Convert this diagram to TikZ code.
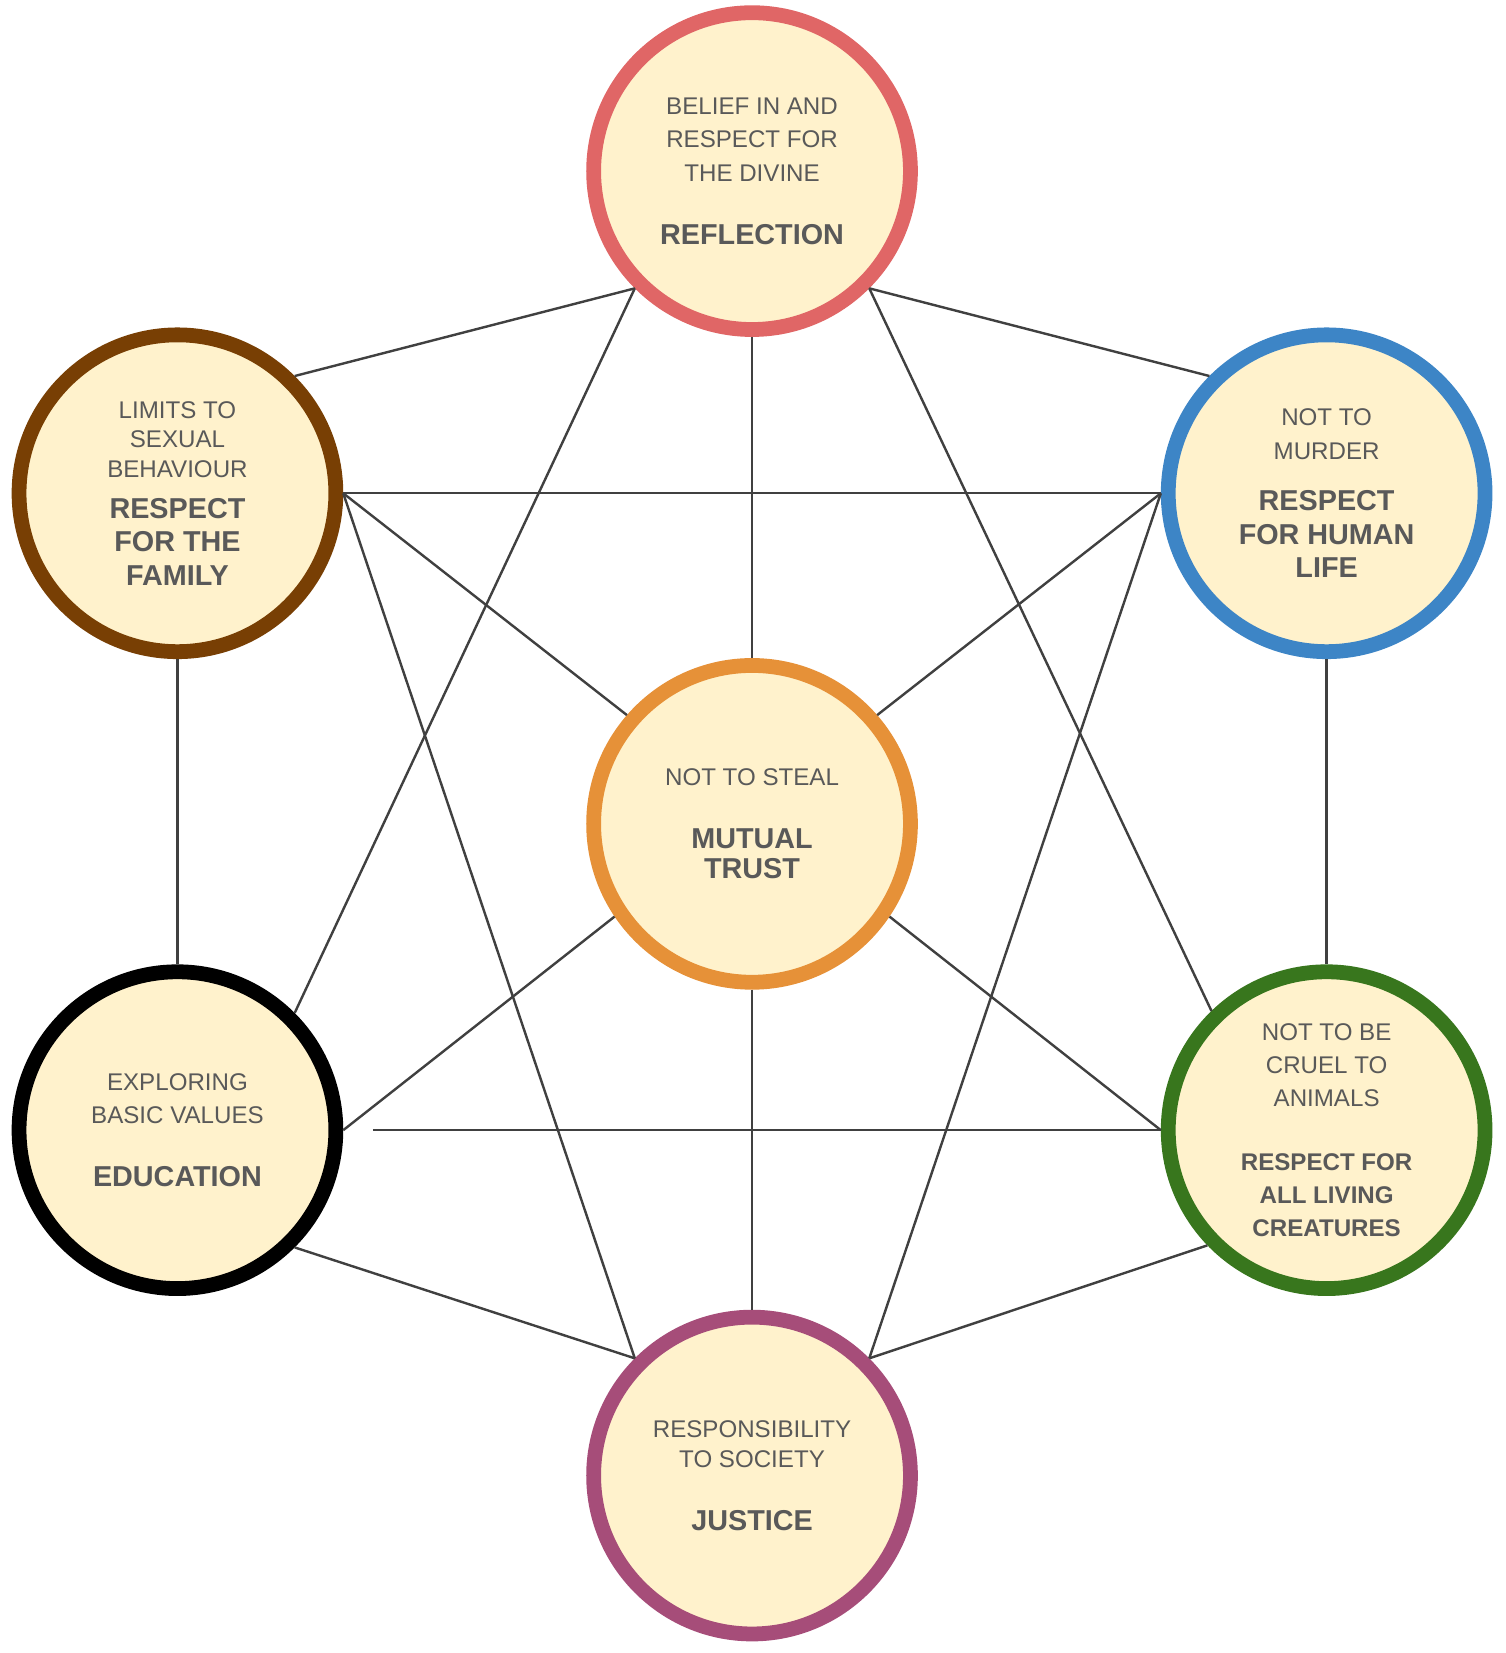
\documentclass[tikz,border=0pt]{standalone}
\usepackage{fontspec}
\setmainfont{Liberation Sans}
\usetikzlibrary{positioning}
\definecolor{txtgray}{HTML}{595959}
\definecolor{cream}{HTML}{FFF2CC}
\definecolor{cred}{HTML}{E06666}
\definecolor{cbrown}{HTML}{783F04}
\definecolor{cblue}{HTML}{3D85C6}
\definecolor{corange}{HTML}{E69138}
\definecolor{cgreen}{HTML}{38761D}
\definecolor{cpurple}{HTML}{A64D79}
\newcommand{\sm}{\fontsize{13pt}{15pt}\selectfont}
\newcommand{\bg}{\fontsize{15.5pt}{17pt}\selectfont\bfseries}
\begin{document}
\begin{tikzpicture}[x=0.02cm,y=-0.02cm,
    value/.style={circle, fill=cream, line width=0.28cm, minimum size=6cm,
      inner sep=0pt, align=center, text=txtgray},
    link/.style={draw=black!75, line width=1.3pt}]
    \useasboundingbox (0,0) rectangle (1425,1565);
    \node[value, draw=cred]    (refl)  at (712,162)  {\sm BELIEF IN AND\\[6pt]\sm RESPECT FOR\\[6pt]\sm THE DIVINE\\[22pt]\bg REFLECTION};
    \node[value, draw=cbrown]  (fam)   at (168,467)  {\sm LIMITS TO\\[4pt]\sm SEXUAL\\[4pt]\sm BEHAVIOUR\\[10pt]\bg RESPECT\\[6pt]\bg FOR THE\\[6pt]\bg FAMILY};
    \node[value, draw=cblue]   (human) at (1256,467) {\sm NOT TO\\[6pt]\sm MURDER\\[16pt]\bg RESPECT\\[6pt]\bg FOR HUMAN\\[6pt]\bg LIFE};
    \node[value, draw=corange] (trust) at (712,780)  {\sm NOT TO STEAL\\[22pt]\bg MUTUAL\\[4pt]\bg TRUST};
    \node[value, draw=black]   (edu)   at (168,1070) {\sm EXPLORING\\[6pt]\sm BASIC VALUES\\[22pt]\bg EDUCATION};
    \node[value, draw=cgreen]  (anim)  at (1256,1070) {\sm NOT TO BE\\[6pt]\sm CRUEL TO\\[6pt]\sm ANIMALS\\[22pt]\sm\bfseries RESPECT FOR\\[6pt]\sm\bfseries ALL LIVING\\[6pt]\sm\bfseries CREATURES};
    \node[value, draw=cpurple] (just)  at (712,1397) {\sm RESPONSIBILITY\\[4pt]\sm TO SOCIETY\\[22pt]\bg JUSTICE};

    \foreach \a/\b in {refl.225/fam.45, refl.315/human.135, refl.270/trust.90,
        refl.225/edu.45, refl.315/anim.134,
        fam.0/human.180, fam.0/trust.139, fam.270/edu.90, fam.0/just.135,
        human.180/trust.41, human.270/anim.90, human.180/just.45,
        trust.214/edu.0, trust.326/anim.180, trust.270/just.90,
        edu.315/just.135, anim.224/just.45}
      \draw[link] (\a) -- (\b);
    \draw[link, shorten <=16pt] (edu.0) -- (anim.180);
\end{tikzpicture}
\end{document}
